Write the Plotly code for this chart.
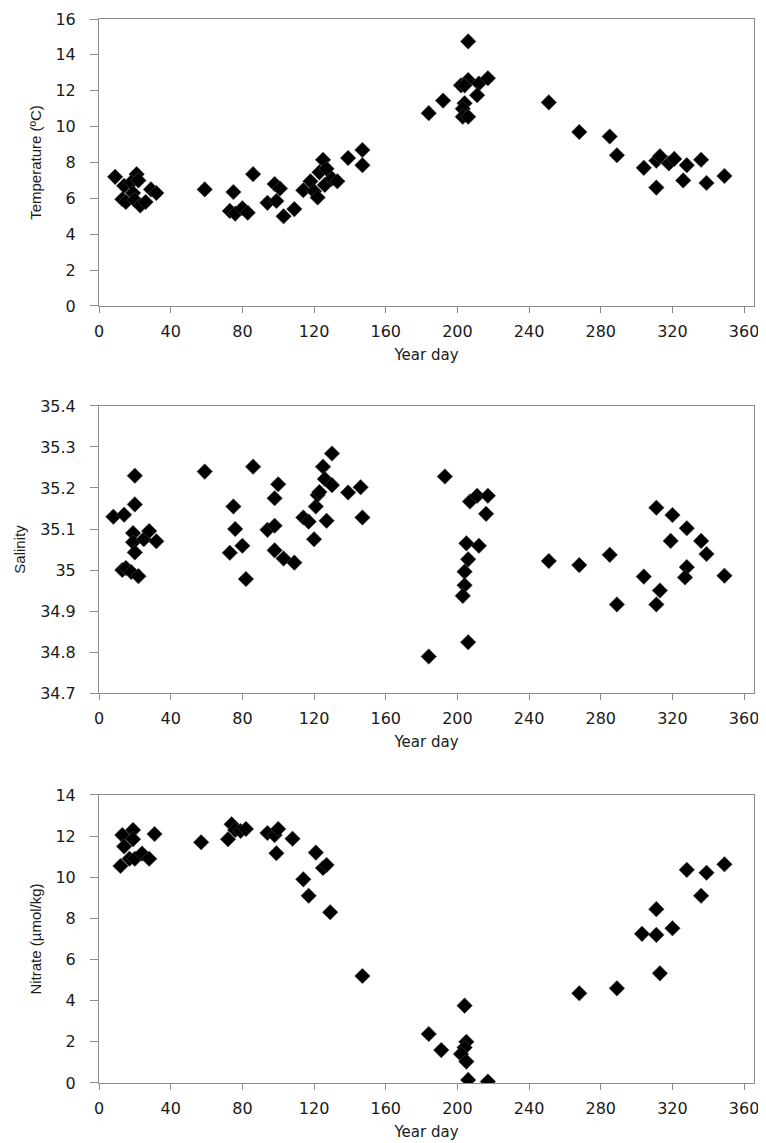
import plotly.graph_objects as go

# temperature (year day, degC)
temp_day = [9, 14, 13, 15, 21, 18, 22, 19, 20, 23, 26, 29, 32,
            59, 75, 73, 76, 80, 83, 86, 94, 98, 101, 99, 103, 109,
            114, 118, 120, 122, 123, 125, 127, 126, 130, 133, 139, 147, 147,
            184, 192, 202, 206, 206, 204, 212, 217, 211, 204, 203, 203, 206,
            251, 268, 285, 289, 304, 311, 313, 318, 321, 328, 326, 336, 339, 349, 311]
temp_val = [7.2, 6.7, 5.95, 5.8, 7.35, 6.9, 7.0, 6.3, 5.9, 5.6, 5.8, 6.5, 6.3,
            6.5, 6.35, 5.3, 5.15, 5.45, 5.2, 7.35, 5.75, 6.8, 6.55, 5.85, 5.0, 5.4,
            6.45, 6.95, 6.4, 6.05, 7.45, 8.15, 7.65, 6.75, 7.1, 6.95, 8.25, 8.7, 7.85,
            10.75, 11.45, 12.3, 14.75, 12.6, 12.3, 12.4, 12.7, 11.75, 11.3, 11.0, 10.55, 10.55,
            11.35, 9.7, 9.45, 8.4, 7.7, 8.1, 8.35, 7.95, 8.2, 7.85, 7.0, 8.15, 6.86, 7.25, 6.6]

# salinity
sal_day = [8, 14, 20, 20, 19, 19, 20, 25, 28, 32, 13, 15, 18, 22,
           59, 75, 76, 73, 80, 82, 86, 94, 98, 98, 100, 98, 103, 109,
           114, 117, 120, 121, 122, 123, 125, 126, 127, 130, 130, 139, 146, 147,
           193, 207, 211, 217, 216, 205, 212, 206, 204, 204, 203, 206, 184,
           251, 268, 285, 289, 304, 311, 320, 319, 328, 328, 327, 313, 311, 336, 339, 349]
sal_val = [35.13, 35.135, 35.23, 35.16, 35.09, 35.068, 35.043, 35.075, 35.095, 35.07,
           35.0, 35.005, 34.995, 34.985,
           35.24, 35.155, 35.1, 35.042, 35.059, 34.978, 35.252, 35.098, 35.108, 35.175,
           35.209, 35.048, 35.028, 35.018,
           35.128, 35.118, 35.075, 35.155, 35.183, 35.19, 35.252, 35.222, 35.12, 35.207,
           35.284, 35.189, 35.202, 35.128,
           35.228, 35.167, 35.181, 35.181, 35.137, 35.065, 35.059, 35.026, 34.996, 34.963,
           34.937, 34.824, 34.789,
           35.022, 35.012, 35.037, 34.916, 34.984, 35.152, 35.134, 35.071, 35.102, 35.007,
           34.982, 34.95, 34.916, 35.071, 35.039, 34.986]

# nitrate (umol/kg)
nit_day = [12, 13, 14, 17, 19, 19, 20, 24, 28, 31,
           57, 72, 74, 76, 79, 82, 94, 98, 100, 99, 108, 114, 117, 121, 125, 127, 129, 147,
           184, 191, 204, 205, 204, 202, 205, 206, 217,
           268, 289, 303, 311, 311, 320, 313, 328, 336, 339, 349]
nit_val = [10.55, 12.05, 11.5, 10.9, 12.3, 11.85, 10.9, 11.15, 10.9, 12.1,
           11.7, 11.85, 12.58, 12.3, 12.25, 12.35, 12.15, 12.05, 12.35, 11.17, 11.87,
           9.9, 9.1, 11.2, 10.45, 10.6, 8.3, 5.2,
           2.38, 1.6, 3.76, 2.0, 1.72, 1.41, 1.04, 0.15, 0.07,
           4.36, 4.6, 7.25, 7.2, 8.45, 7.52, 5.33, 10.36, 9.1, 10.22, 10.63]

font_tick = dict(family="DejaVu Sans", size=16, color="#1a1a1a")
font_xtitle = dict(family="DejaVu Sans", size=15, color="#1a1a1a")
font_ytitle = dict(family="Liberation Sans", size=15, color="#1a1a1a")
marker = dict(symbol="diamond", size=12, color="black",
              line=dict(color="#555555", width=0.5))

fig = go.Figure()
fig.add_trace(go.Scatter(x=temp_day, y=temp_val, mode="markers", marker=marker,
                         xaxis="x", yaxis="y", showlegend=False))
fig.add_trace(go.Scatter(x=sal_day, y=sal_val, mode="markers", marker=marker,
                         xaxis="x2", yaxis="y2", showlegend=False))
fig.add_trace(go.Scatter(x=nit_day, y=nit_val, mode="markers", marker=marker,
                         xaxis="x3", yaxis="y3", showlegend=False))

xcommon = dict(range=[0, 365.5], tickvals=list(range(0, 361, 40)), showgrid=False,
               zeroline=False, showline=True, mirror=True, linecolor="#8c8c8c",
               ticks="outside", ticklen=6, tickcolor="#8c8c8c", tickfont=font_tick,
               ticklabelstandoff=5, automargin=False,
               title=dict(text="Year day", font=font_xtitle, standoff=9))
ycommon = dict(showgrid=False, zeroline=False, showline=True, mirror=True,
               linecolor="#8c8c8c", ticks="outside", ticklen=8, tickcolor="#8c8c8c",
               tickfont=font_tick, ticklabelstandoff=11, automargin=False)

# the page body has an 8px margin, so the figure is shifted by 8px
fig.update_layout(
    width=758, height=1135,
    margin=dict(l=91, r=12, t=11, b=60),
    plot_bgcolor="white", paper_bgcolor="white",
    xaxis=dict(xcommon, anchor="y"),
    xaxis2=dict(xcommon, anchor="y2"),
    xaxis3=dict(xcommon, anchor="y3"),
    yaxis=dict(ycommon, domain=[0.7303, 1.0], range=[0, 16], dtick=2,
               title=dict(text="Temperature (ºC)", font=font_ytitle, standoff=10)),
    yaxis2=dict(ycommon, domain=[0.3665, 0.6363], range=[34.7, 35.4], dtick=0.1,
                title=dict(text="Salinity", font=font_ytitle, standoff=10)),
    yaxis3=dict(ycommon, domain=[0.0, 0.2707], range=[0, 14], dtick=2,
                title=dict(text="Nitrate (µmol/kg)", font=font_ytitle, standoff=10)),
)

fig.write_html("out.html")
